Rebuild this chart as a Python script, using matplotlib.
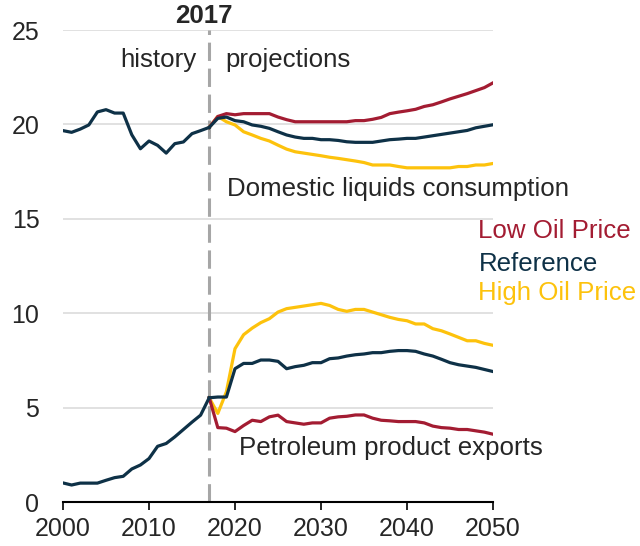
import numpy as np
import matplotlib
matplotlib.use('Agg')
import matplotlib.pyplot as plt

plt.rcParams['font.family'] = ['Liberation Sans', 'DejaVu Sans']

# colours
red = '#a31c32'
navy = '#0e3147'
yellow = '#fdc20c'
gray = '#a6a6a6'

# history, 2000-2017
hist_years = np.arange(2000, 2018)
hist_consumption = [19.67, 19.58, 19.75, 19.97, 20.66, 20.78, 20.6, 20.6, 19.45, 18.71,
                    19.12, 18.89, 18.48, 18.98, 19.07, 19.51, 19.67, 19.84]
hist_exports = [1.01, 0.9, 1.0, 1.0, 1.0, 1.15, 1.29, 1.36, 1.75, 1.96,
                2.3, 2.95, 3.1, 3.45, 3.84, 4.23, 4.6, 5.52]

# projections, 2017-2050
proj_years = np.arange(2017, 2051)
cons_low = [19.84, 20.42, 20.57, 20.51, 20.57, 20.57, 20.57, 20.57, 20.39, 20.25,
            20.14, 20.14, 20.14, 20.14, 20.14, 20.14, 20.14, 20.2, 20.2, 20.27,
            20.37, 20.57, 20.65, 20.72, 20.8, 20.95, 21.04, 21.19, 21.35, 21.49,
            21.63, 21.79, 21.95, 22.2]
cons_ref = [19.84, 20.32, 20.39, 20.2, 20.14, 19.97, 19.9, 19.79, 19.61, 19.44,
            19.33, 19.26, 19.26, 19.19, 19.19, 19.15, 19.08, 19.05, 19.05, 19.05,
            19.12, 19.19, 19.22, 19.26, 19.26, 19.33, 19.4, 19.47, 19.54, 19.61,
            19.68, 19.82, 19.9, 19.98]
cons_high = [19.84, 20.42, 20.14, 19.97, 19.61, 19.44, 19.26, 19.12, 18.9, 18.69,
             18.55, 18.48, 18.41, 18.34, 18.26, 18.2, 18.13, 18.06, 17.98, 17.85,
             17.85, 17.85, 17.77, 17.7, 17.7, 17.7, 17.7, 17.7, 17.7, 17.77,
             17.77, 17.85, 17.85, 17.93]

exp_low = [5.52, 3.94, 3.91, 3.73, 4.05, 4.33, 4.26, 4.51, 4.6, 4.26,
           4.19, 4.12, 4.19, 4.19, 4.44, 4.51, 4.54, 4.61, 4.61, 4.44,
           4.33, 4.3, 4.26, 4.26, 4.26, 4.19, 4.02, 3.94, 3.91, 3.84,
           3.84, 3.77, 3.7, 3.59]
exp_ref = [5.52, 5.56, 5.56, 7.06, 7.34, 7.34, 7.52, 7.52, 7.45, 7.06,
           7.17, 7.24, 7.38, 7.38, 7.59, 7.63, 7.73, 7.8, 7.84, 7.91,
           7.91, 7.98, 8.02, 8.02, 7.98, 7.84, 7.73, 7.56, 7.38, 7.27,
           7.2, 7.13, 7.02, 6.91]
exp_high = [5.52, 4.69, 5.84, 8.12, 8.86, 9.21, 9.5, 9.71, 10.06, 10.24,
            10.31, 10.38, 10.45, 10.52, 10.41, 10.2, 10.1, 10.2, 10.2, 10.06,
            9.92, 9.78, 9.67, 9.6, 9.43, 9.43, 9.18, 9.07, 8.9, 8.72,
            8.54, 8.54, 8.4, 8.3]

xticks = [2000, 2010, 2020, 2030, 2040, 2050]
yticks = [0, 5, 10, 15, 20, 25]

fig = plt.figure(figsize=(6.4, 5.46), dpi=100)
ax = fig.add_axes([63 / 640, 44 / 546, 430 / 640, 472 / 546])

lw = 2.3
# projections drawn first so the reference line sits on top
ax.plot(proj_years, cons_high, color=yellow, lw=lw)
ax.plot(proj_years, cons_low, color=red, lw=lw)
ax.plot(proj_years, cons_ref, color=navy, lw=lw)
ax.plot(proj_years, exp_high, color=yellow, lw=lw)
ax.plot(proj_years, exp_low, color=red, lw=lw)
ax.plot(proj_years, exp_ref, color=navy, lw=lw)
ax.plot(hist_years, hist_consumption, color=navy, lw=lw)
ax.plot(hist_years, hist_exports, color=navy, lw=lw)

# history / projections divider
ax.axvline(2017, color=gray, lw=2.2, linestyle=(0, (6, 2.5)), zorder=1)

ax.set_xlim(2000, 2050)
ax.set_ylim(0, 25)
ax.set_xticks(xticks)
ax.set_yticks(yticks)
for y in yticks[1:]:
    ax.axhline(y, color='#d9d9d9', lw=1.1, zorder=0)

for s in ['top', 'right', 'left']:
    ax.spines[s].set_visible(False)
ax.spines['bottom'].set_color('black')
ax.spines['bottom'].set_linewidth(1.5)
ax.tick_params(axis='x', direction='out', length=6, width=1.2, color='black',
               pad=4.5, labelsize=18, labelcolor='#262626')
ax.tick_params(axis='y', length=0, pad=17, labelsize=18, labelcolor='#262626')

txt = '#262626'
fs = 18.6
ax.text(2016.4, 25.1, '2017', ha='center', va='bottom', fontsize=fs,
        fontweight='bold', color=txt)
ax.text(2015.5, 23.05, 'history', ha='right', va='baseline', fontsize=fs, color=txt)
ax.text(2018.9, 23.05, 'projections', ha='left', va='baseline', fontsize=fs, color=txt)
ax.text(2019.1, 16.2, 'Domestic liquids consumption', ha='left', va='baseline',
        fontsize=fs, color=txt)
ax.text(2020.5, 2.5, 'Petroleum product exports', ha='left', va='baseline',
        fontsize=fs, color=txt)

ax.text(2048.3, 13.97, 'Low Oil Price', ha='left', va='baseline', fontsize=fs,
        color=red, clip_on=False)
ax.text(2048.3, 12.24, 'Reference', ha='left', va='baseline', fontsize=fs,
        color=navy, clip_on=False)
ax.text(2048.3, 10.7, 'High Oil Price', ha='left', va='baseline', fontsize=fs,
        color=yellow, clip_on=False)

plt.savefig('out.png', dpi=100)
